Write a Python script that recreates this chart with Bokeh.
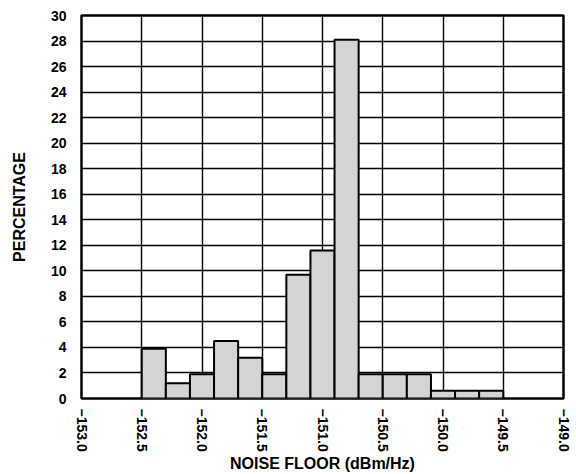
import math

from bokeh.embed import file_html
from bokeh.models import FixedTicker
from bokeh.plotting import figure
from bokeh.resources import INLINE

# histogram of noise floor, bins 0.2 dB wide
bin_left = [-152.5, -152.3, -152.1, -151.9, -151.7, -151.5, -151.3, -151.1,
            -150.9, -150.7, -150.5, -150.3, -150.1, -149.9, -149.7]
bin_right = [-152.3, -152.1, -151.9, -151.7, -151.5, -151.3, -151.1, -150.9,
             -150.7, -150.5, -150.3, -150.1, -149.9, -149.7, -149.5]
percent = [3.9, 1.2, 1.9, 4.5, 3.2, 1.9, 9.7, 11.6, 28.1, 1.9, 1.9, 1.9, 0.6, 0.6, 0.6]

x_ticks = [-153.0, -152.5, -152.0, -151.5, -151.0, -150.5, -150.0, -149.5, -149.0]
y_ticks = list(range(0, 31, 2))

FONT = "Liberation Sans"

p = figure(width=576, height=474, x_range=(-153, -149), y_range=(0, 30),
           output_backend="svg", toolbar_location=None,
           min_border_left=81, min_border_right=13, min_border_top=15, min_border_bottom=76)

p.quad(left=bin_left, right=bin_right, bottom=0, top=percent,
       fill_color="#d4d4d4", line_color="black", line_width=2)

p.xaxis.ticker = FixedTicker(ticks=x_ticks)
p.yaxis.ticker = FixedTicker(ticks=y_ticks)
p.xaxis.major_label_overrides = {t: "\u2212%.1f" % abs(t) for t in x_ticks}
p.xaxis.major_label_orientation = -math.pi / 2

for ax in (p.xaxis, p.yaxis):
    ax.axis_line_color = None
    ax.major_tick_line_color = None
    ax.minor_tick_line_color = None
    ax.major_label_text_font = FONT
    ax.major_label_text_font_style = "bold"
    ax.major_label_text_font_size = "14px"
    ax.major_label_text_color = "black"
    ax.axis_label_text_font = FONT
    ax.axis_label_text_font_style = "bold"
    ax.axis_label_text_font_size = "16px"
    ax.axis_label_text_color = "black"

p.xaxis.axis_label = "NOISE FLOOR (dBm/Hz)"
p.yaxis.axis_label = "PERCENTAGE"
p.xaxis.major_label_standoff = 4
p.yaxis.major_label_standoff = 9
p.xaxis.axis_label_standoff = 0
p.yaxis.axis_label_standoff = 20

p.grid.grid_line_color = "black"
p.grid.grid_line_width = 1.4
p.grid.grid_line_alpha = 1

p.outline_line_color = "black"
p.outline_line_width = 2.5
p.outline_line_alpha = 1
p.background_fill_color = "white"

open("out.html", "w").write(file_html(p, INLINE))
